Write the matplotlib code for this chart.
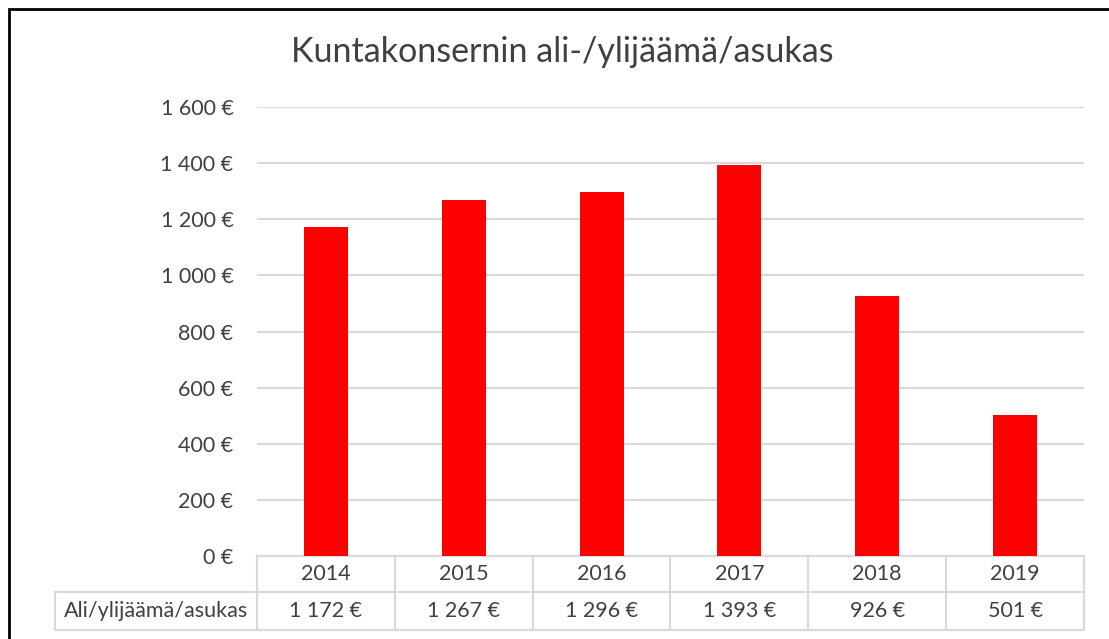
import matplotlib
matplotlib.use("Agg")
import matplotlib.pyplot as plt
from matplotlib.patches import Rectangle
from matplotlib.transforms import blended_transform_factory

years = ["2014", "2015", "2016", "2017", "2018", "2019"]
values = [1172, 1267, 1296, 1393, 926, 501]
row_label = "Ali/ylijäämä/asukas"
title = "Kuntakonsernin ali-/ylijäämä/asukas"
yticks = [0, 200, 400, 600, 800, 1000, 1200, 1400, 1600]

def euro(v):
    return "{:,}".format(v).replace(",", " ") + " €"

plt.rcParams["font.family"] = ["Lato", "DejaVu Sans"]
text_color = "#404040"
grid_color = "#d9d9d9"
fs = 15.5

W, H = 1109, 639
fig = plt.figure(figsize=(W / 100, H / 100), dpi=100)

# plot area in pixels
x0, x1, y_top, y_bot = 257, 1084, 107, 556
ax = fig.add_axes([x0 / W, 1 - y_bot / H, (x1 - x0) / W, (y_bot - y_top) / H])

xs = list(range(len(years)))
ax.bar(xs, values, width=0.32, color="#ff0000", zorder=3)
ax.set_xlim(-0.5, len(years) - 0.5)
ax.set_ylim(0, 1600)
ax.set_yticks(yticks)
ax.set_yticklabels([euro(v) for v in yticks], fontsize=fs, color=text_color)
ax.tick_params(axis="y", length=0, pad=17)
ax.set_xticks([])
ax.grid(axis="y", color=grid_color, linewidth=1.5, zorder=0)
for s in ax.spines.values():
    s.set_visible(False)

# data table below the plot
tr = blended_transform_factory(ax.transData, ax.transAxes)
px = (x1 - x0) / len(years)  # pixels per category
h_row1 = -(592 - y_bot) / (y_bot - y_top)
h_row2 = -(630 - y_bot) / (y_bot - y_top)
label_left = -0.5 - (x0 - 55) / px
lk = dict(color=grid_color, linewidth=1.5, clip_on=False, transform=tr)
ax.plot([-0.5, len(years) - 0.5], [0, 0], **lk)
ax.plot([label_left, len(years) - 0.5], [h_row1, h_row1], **lk)
ax.plot([label_left, len(years) - 0.5], [h_row2, h_row2], **lk)
ax.plot([label_left, label_left], [h_row1, h_row2], **lk)
for i in range(len(years) + 1):
    ax.plot([i - 0.5, i - 0.5], [0, h_row2], **lk)

for i, (yr, v) in enumerate(zip(years, values)):
    ax.text(i, h_row1 / 2, yr, transform=tr, ha="center", va="center",
            fontsize=fs, color=text_color)
    ax.text(i, (h_row1 + h_row2) / 2, euro(v), transform=tr, ha="center",
            va="center", fontsize=fs, color=text_color)
ax.text((label_left - 0.5) / 2, (h_row1 + h_row2) / 2, row_label, transform=tr,
        ha="center", va="center", fontsize=fs, color=text_color)

fig.text(562 / W, 1 - 52 / H, title, ha="center", va="center",
         fontsize=24.5, color=text_color)

# chart border
fig.patches.append(Rectangle((9 / W, -0.1), 1.2, 1 - 9 / H + 0.1,
                             transform=fig.transFigure, fill=False,
                             edgecolor="black", linewidth=2))

fig.savefig("out.png", dpi=100)
